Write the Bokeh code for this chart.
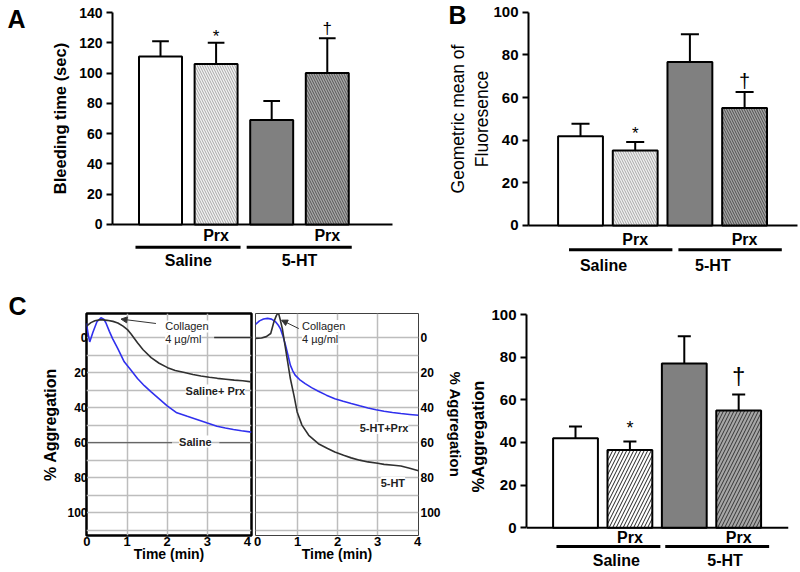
from bokeh.plotting import figure
from bokeh.layouts import row, column
from bokeh.models import FixedTicker, Label, Arrow, NormalHead, ColumnDataSource, Range1d
from bokeh.core.properties import value, field
from bokeh.embed import file_html
from bokeh.resources import INLINE

FONT = "Liberation Sans"

# ------------------------------------------------------------------ data
conditions = ["Saline", "Saline + Prx", "5-HT", "5-HT + Prx"]
group_names = ["Saline", "5-HT"]
treatment = ["", "Prx", "", "Prx"]
signif = ["", "*", "", "\u2020"]
panel_letters = ["A", "B", "C"]

bleeding_mean = [111, 106, 69, 100]
bleeding_err = [10, 14, 12.5, 23]
bleeding_ticks = [0, 20, 40, 60, 80, 100, 120, 140]

fluor_mean = [41.8, 35.2, 76.7, 55.1]
fluor_err = [5.9, 3.9, 13.0, 7.5]
fluor_ticks = [0, 20, 40, 60, 80, 100]

aggr_mean = [42.0, 36.5, 77.0, 55.0]
aggr_err = [5.5, 4.0, 12.8, 7.5]
aggr_ticks = [0, 20, 40, 60, 80, 100]

time_ticks = [0, 1, 2, 3, 4]
time_grid = [1, 2, 3]
agg_ticks = [0, 20, 40, 60, 80, 100]
agg_grid = [0, 10, 20, 30, 40, 50, 60, 70, 80, 90, 100, 110]

# aggregation traces (time in min, % aggregation)
t_saline_prx = [-0.01, 0.1, 0.2, 0.35, 0.5, 0.65, 0.77, 0.9, 1.01, 1.1, 1.26, 1.4, 1.6, 1.8,
                2.01, 2.2, 2.43, 2.64, 2.84, 3.05, 3.25, 3.46, 3.67, 3.88, 4.1]
a_saline_prx = [-6.5, -8.5, -9.6, -10.2, -9.8, -9.2, -8.3, -6.5, -4.5, -2, 3, 7, 11.5, 14.7,
                17.2, 18.8, 20, 21.1, 22, 22.7, 23.3, 23.8, 24.3, 24.7, 25.3]
t_saline = [-0.01, 0.03, 0.07, 0.15, 0.25, 0.35, 0.42, 0.48, 0.56, 0.64, 0.77, 0.93, 1.1, 1.26,
            1.43, 1.6, 1.8, 2.0, 2.24, 2.5, 2.74, 3.0, 3.24, 3.45, 3.65, 3.85, 4.1]
a_saline = [-8, -2, 2.5, -3, -9, -11.3, -10.5, -8, -3.5, 0.6, 6.3, 13.9, 18.7, 23.4,
            27.5, 31, 35, 39, 43, 45, 46.8, 48.8, 50.6, 51.6, 52.5, 53.2, 54]
t_5ht = [-0.05, 0.1, 0.22, 0.33, 0.41, 0.47, 0.52, 0.57, 0.62, 0.68, 0.74, 0.82, 0.91, 0.99,
         1.11, 1.28, 1.52, 1.75, 1.93, 2.15, 2.34, 2.55, 2.76, 3.0, 3.16, 3.4, 3.58, 3.8, 4.02]
a_5ht = [0.5, 0.3, -0.5, -2.3, -9, -12.5, -14.3, -10, -5.1, 3.5, 12, 23.4, 33, 42.5,
         50, 55.8, 60.6, 63.3, 65.3, 67.2, 68.7, 70, 71, 71.8, 72.4, 72.9, 73.3, 74.6, 76]
t_5ht_prx = [-0.05, 0.05, 0.15, 0.25, 0.35, 0.45, 0.52, 0.57, 0.64, 0.7, 0.76, 0.82, 0.88, 0.94,
             1.05, 1.19, 1.35, 1.52, 1.72, 1.93, 2.14, 2.34, 2.55, 2.76, 2.96, 3.16, 3.37, 3.58, 3.8, 4.02]
a_5ht_prx = [-7.5, -9.5, -10.6, -10.9, -10.5, -9, -7, -5.1, -0.5, 4.4, 10, 15.8, 19, 21.5,
             24, 26.3, 28.6, 30.7, 32.9, 34.9, 36.4, 37.7, 39, 40.2, 41.2, 42.1, 42.8, 43.4, 43.9, 44.4]


# ------------------------------------------------------------------ helpers
def make_fig(width, height, xr, yr, mb, **kw):
    return figure(width=width, height=height, x_range=Range1d(*xr), y_range=Range1d(*yr),
                  output_backend="svg", toolbar_location=None, frame_align=False,
                  min_border_left=mb[0], min_border_right=mb[1],
                  min_border_top=mb[2], min_border_bottom=mb[3], **kw)


def style_axis_text(ax, tick_size, label_size, label_style="bold"):
    ax.major_label_text_font = FONT
    ax.major_label_text_font_style = "bold"
    ax.major_label_text_font_size = tick_size
    ax.major_label_text_color = "black"
    ax.axis_label_text_font = FONT
    ax.axis_label_text_font_style = label_style
    ax.axis_label_text_font_size = label_size
    ax.axis_label_text_color = "black"


def letter_text(p, x, y, text):
    p.text(x=[x], y=[y], text=[text], text_font=value(FONT), text_font_style="bold",
           text_font_size="25px", text_baseline="middle", text_align="left", text_color="black")


def bar_panel(mean, err, ticks, ylabel, *, width, height, mb, xr, yr, axis_x, base_end,
              bar_w, cap, fills, hatches, hcolors, hscale, ylabel_size, ylabel_style,
              ylabel_standoff, tick_size, y_treat, y_line, y_group, line_ext, group_dx,
              sig_off, sig_sizes, fixed_axis):
    x = [i + 1 for i in range(len(mean))]
    top = [m + e for m, e in zip(mean, err)]
    src = ColumnDataSource(dict(x=x, mean=mean, top=top, fill=fills, hatch=hatches, hcol=hcolors,
                                xl=[v - cap for v in x], xr=[v + cap for v in x]))
    p = make_fig(width, height, xr, yr, mb)
    p.outline_line_color = None
    p.grid.visible = False
    p.xaxis.visible = False
    ya = p.yaxis[0]
    if fixed_axis:
        ya.fixed_location = axis_x
    ya.bounds = (0, ticks[-1])
    ya.ticker = FixedTicker(ticks=ticks)
    ya.minor_tick_line_color = None
    ya.major_tick_in = 0
    ya.major_tick_out = 6
    ya.axis_line_width = 2
    ya.major_tick_line_width = 2
    ya.major_label_standoff = 4
    ya.axis_label = ylabel
    ya.axis_label_standoff = ylabel_standoff
    style_axis_text(ya, tick_size, ylabel_size, ylabel_style)

    # x baseline (bar axis)
    p.segment(x0=[axis_x], y0=[0], x1=[base_end], y1=[0], line_color="black", line_width=2)
    p.vbar(x="x", top="mean", bottom=0, width=bar_w, source=src, fill_color=field("fill"),
           line_color="black", line_width=2, hatch_pattern=field("hatch"),
           hatch_color=field("hcol"), hatch_scale=hscale, hatch_weight=1)
    p.segment(x0="x", y0="mean", x1="x", y1="top", source=src, line_color="black", line_width=2)
    p.segment(x0="xl", y0="top", x1="xr", y1="top", source=src, line_color="black", line_width=2)

    for i, s in enumerate(signif):
        if s:
            p.text(x=[x[i]], y=[top[i] + sig_off[i]], text=[s], text_font=value(FONT),
                   text_font_size=sig_sizes[i], text_align="center", text_baseline="middle",
                   text_color="black")
    tx = [x[i] for i, t in enumerate(treatment) if t]
    tt = [t for t in treatment if t]
    p.text(x=tx, y=[y_treat] * len(tx), text=tt, text_font=value(FONT), text_font_style="bold",
           text_font_size="16px", text_align="center", text_baseline="middle", text_color="black")
    for g, name in enumerate(group_names):
        a, b = x[2 * g], x[2 * g + 1]
        p.segment(x0=[a + line_ext[0]], y0=[y_line], x1=[b + line_ext[1]], y1=[y_line],
                  line_color="black", line_width=3)
        p.text(x=[(a + b) / 2 + group_dx], y=[y_group], text=[name], text_font=value(FONT),
               text_font_style="bold", text_font_size="16px", text_align="center",
               text_baseline="middle", text_color="black")
    return p


def trace_panel(curves, *, width, mb, xr, side, label_size, tick_standoff, label_standoff,
                outline_w, outline_c):
    p = make_fig(width, 282, xr, (113, -13.7), mb, y_axis_location=side)
    p.outline_line_color = outline_c
    p.outline_line_width = outline_w
    p.xgrid.ticker = FixedTicker(ticks=time_grid)
    p.ygrid.ticker = FixedTicker(ticks=agg_grid)
    p.grid.grid_line_color = "#bdbdbd"
    p.grid.grid_line_width = 1.5
    for ax in p.axis:
        ax.axis_line_color = None
        ax.major_tick_line_color = None
        ax.minor_tick_line_color = None
        ax.major_tick_out = 0
        ax.major_tick_in = 0
    xa = p.xaxis[0]
    xa.ticker = FixedTicker(ticks=time_ticks)
    xa.axis_label = "Time (min)"
    xa.major_label_standoff = 1
    xa.axis_label_standoff = -3
    style_axis_text(xa, "13px", "14px")
    ya = p.yaxis[0]
    ya.ticker = FixedTicker(ticks=agg_ticks)
    ya.axis_label = "% Aggregation"
    ya.major_label_standoff = tick_standoff
    ya.axis_label_standoff = label_standoff
    style_axis_text(ya, "12px", label_size)
    for t, a, c in curves:
        p.line(t, a, line_color=c, line_width=1.6)
    return p


def note(p, x, y, text, bold=False, align="left", size="11px"):
    p.add_layout(Label(x=x, y=y, text=text, text_font=FONT, text_font_size=size,
                       text_font_style="bold" if bold else "normal", text_color="#222222",
                       text_align=align, text_baseline="middle", background_fill_color="white"))


def arrow(p, x0, y0, x1, y1):
    p.add_layout(Arrow(end=NormalHead(size=6, fill_color="#333333", line_color="#333333"),
                       x_start=x0, y_start=y0, x_end=x1, y_end=y1,
                       line_color="#333333", line_width=1))


# ------------------------------------------------------------------ panel A
pA = bar_panel(bleeding_mean, bleeding_err, bleeding_ticks, "Bleeding time (sec)",
               width=400, height=290, mb=(0, 0, 0, 0), xr=(-1.878, 5.317), yr=(-43.6, 147.95),
               axis_x=0.137, base_end=5.173, fixed_axis=True,
               bar_w=0.773, cap=0.15,
               fills=["white", "#f2f2f2", "#808080", "#a8a8a8"],
               hatches=[" ", "\\", " ", "\\"],
               hcolors=["white", "#a6a6a6", "#808080", "#555555"], hscale=5,
               ylabel_size="16.5px", ylabel_style="bold", ylabel_standoff=7, tick_size="14px",
               y_treat=-7.3, y_line=-15, y_group=-23.8, line_ext=(-0.45, 0.44), group_dx=0.0,
               sig_off=[0, 4.5, 0, 6.5], sig_sizes=["", "17px", "", "17px"])
letter_text(pA, -1.752, 135.7, panel_letters[0])

# ------------------------------------------------------------------ panel B
pB = bar_panel(fluor_mean, fluor_err, fluor_ticks, "Geometric mean of\nFluoresence",
               width=400, height=290, mb=(0, 0, 0, 0), xr=(-2.291, 5.022), yr=(-30.5, 105.5),
               axis_x=0.049, base_end=4.967, fixed_axis=True,
               bar_w=0.82, cap=0.165,
               fills=["white", "#f0f0f0", "#808080", "#a4a4a4"],
               hatches=[" ", "\\", " ", "\\"],
               hcolors=["white", "#a8a8a8", "#808080", "#4f4f4f"], hscale=5,
               ylabel_size="17.5px", ylabel_style="normal", ylabel_standoff=-2, tick_size="15px",
               y_treat=-6.7, y_line=-11.4, y_group=-18.8, line_ext=(-0.21, 0.68), group_dx=-0.08,
               sig_off=[0, 4.2, 0, 5.0], sig_sizes=["", "17px", "", "20px"])
letter_text(pB, -1.413, 98.5, panel_letters[1])

# ------------------------------------------------------------------ panel C letter
pLetter = make_fig(30, 282, (0, 30), (282, 0), (0, 0, 0, 0))
pLetter.outline_line_color = None
pLetter.axis.visible = False
pLetter.grid.visible = False
letter_text(pLetter, 8, 15.5, panel_letters[2])

# ------------------------------------------------------------------ panel C traces
pL = trace_panel([(t_saline, a_saline, "#3030ee"), (t_saline_prx, a_saline_prx, "#303030")],
                 width=223, mb=(56, 2, 23, 37), xr=(-0.01, 4.1), side="left",
                 label_size="16px", tick_standoff=-1, label_standoff=5,
                 outline_w=2.5, outline_c="black")
pL.segment(x0=[3.17], y0=[0], x1=[4.1], y1=[0], line_color="#333333", line_width=1.5)
pL.segment(x0=[-0.01, 3.3], y0=[60, 60], x1=[2.12, 4.1], y1=[60, 60], line_color="#666666", line_width=1.3)
note(pL, 1.95, -6.3, "Collagen")
note(pL, 1.95, 0.6, "4 \u00b5g/ml")
arrow(pL, 1.72, -8.0, 0.85, -10.5)
note(pL, 3.2, 30.3, "Saline+ Prx", bold=True, align="center")
note(pL, 2.7, 59.4, "Saline", bold=True, align="center")

pR = trace_panel([(t_5ht_prx, a_5ht_prx, "#3030ee"), (t_5ht, a_5ht, "#303030")],
                 width=213, mb=(2, 46, 23, 37), xr=(-0.05, 4.02), side="right",
                 label_size="15px", tick_standoff=2, label_standoff=3,
                 outline_w=1, outline_c="#404040")
note(pR, 1.11, -6.6, "Collagen")
note(pR, 1.11, 0.7, "4 \u00b5g/ml")
arrow(pR, 1.03, -5.1, 0.6, -9.9)
note(pR, 3.16, 51.7, "5-HT+Prx", bold=True, align="center")
note(pR, 3.38, 83, "5-HT", bold=True, align="center")

# ------------------------------------------------------------------ panel C bars
pC = bar_panel(aggr_mean, aggr_err, aggr_ticks, "%Aggregation",
               width=334, height=282, mb=(59, 12, 10, 0), xr=(0.099, 4.916), yr=(-21.0, 106.6),
               axis_x=0.099, base_end=4.916, fixed_axis=False,
               bar_w=0.824, cap=0.12,
               fills=["white", "white", "#808080", "#a6a6a6"],
               hatches=[" ", "/", " ", "/"],
               hcolors=["white", "#222222", "#808080", "#333333"], hscale=7,
               ylabel_size="16.5px", ylabel_style="bold", ylabel_standoff=1, tick_size="15px",
               y_treat=-4.4, y_line=-8.8, y_group=-15.3, line_ext=(-0.35, 0.56), group_dx=0.25,
               sig_off=[0, 6.5, 0, 9.0], sig_sizes=["", "18px", "", "24px"])

layout = column(row(pA, pB), row(pLetter, pL, pR, pC))
open("out.html", "w").write(file_html(layout, INLINE))
